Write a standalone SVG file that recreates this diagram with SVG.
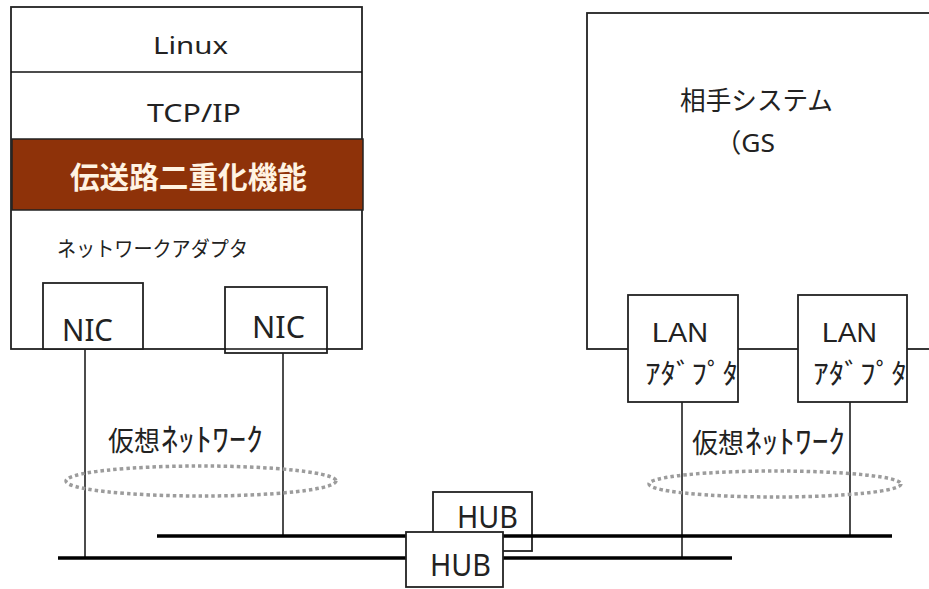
<svg xmlns="http://www.w3.org/2000/svg" width="929" height="589" viewBox="0 0 929 589">
<style>
.box{fill:#fff;stroke:#222;stroke-width:1.8}
.wire{stroke:#111;stroke-width:1.5;fill:none}
.bus{stroke:#000;stroke-width:3.5;fill:none}
.vnet{fill:none;stroke:#9c9c9c;stroke-width:3.5;stroke-dasharray:3.5 3}
.t{font-family:"Noto Sans CJK JP","Noto Sans",sans-serif;fill:#222}
.l{font-family:"Noto Sans","Noto Sans CJK JP",sans-serif;fill:#222}
.h{font-family:"Liberation Sans","Noto Sans CJK JP",sans-serif;fill:#222}
</style>
<rect width="929" height="589" fill="#fff"/>
<g id="linux-host">
  <rect class="box" x="11" y="7" width="351" height="342"/>
  <line class="wire" x1="11" y1="72" x2="362" y2="72"/>
  <text class="l" x="153" y="54" font-size="23" textLength="75" lengthAdjust="spacingAndGlyphs">Linux</text>
  <text class="l" x="147" y="122" font-size="25" textLength="94" lengthAdjust="spacingAndGlyphs">TCP/IP</text>
</g>
<g id="redundancy">
  <rect x="12" y="139" width="351" height="71" fill="#8e3209" stroke="#222" stroke-width="1.5"/>
  <text class="t" x="70" y="188" font-size="30" font-weight="bold" style="fill:#fff3e2" textLength="237" lengthAdjust="spacingAndGlyphs">伝送路二重化機能</text>
</g>
<g id="adapter-label">
  <text class="t" x="57" y="256" font-size="21" textLength="191" lengthAdjust="spacingAndGlyphs">ネットワークアダプタ</text>
</g>
<g id="remote-system">
  <rect class="box" x="587" y="13" width="360" height="336"/>
  <text class="t" x="680" y="110" font-size="26" textLength="153" lengthAdjust="spacingAndGlyphs">相手システム</text>
  <text class="l" x="715" y="152" font-size="26" textLength="60" lengthAdjust="spacingAndGlyphs">（GS</text>
</g>
<g id="connectors">
  <line class="wire" x1="85" y1="349" x2="85" y2="558"/>
  <line class="wire" x1="283" y1="353" x2="283" y2="536"/>
  <line class="wire" x1="682" y1="402" x2="682" y2="558"/>
  <line class="wire" x1="850" y1="402" x2="850" y2="536"/>
</g>
<g id="nic1">
  <rect class="box" x="43" y="283" width="100" height="66"/>
  <text class="l" x="62" y="341" font-size="30" textLength="51" lengthAdjust="spacingAndGlyphs">NIC</text>
</g>
<g id="nic2">
  <rect class="box" x="225" y="287" width="102" height="66"/>
  <line class="wire" x1="225" y1="349" x2="327" y2="349"/>
  <text class="l" x="252" y="338" font-size="30" textLength="53" lengthAdjust="spacingAndGlyphs">NIC</text>
</g>
<g id="lan1">
  <rect class="box" x="628" y="295" width="110" height="107"/>
  <text class="h" x="652" y="342" font-size="28" textLength="56" lengthAdjust="spacingAndGlyphs">LAN</text>
  <text class="t" x="645" y="384" font-size="28" textLength="93" lengthAdjust="spacingAndGlyphs">ｱﾀﾞﾌﾟﾀ</text>
</g>
<g id="lan2">
  <rect class="box" x="798" y="295" width="109" height="107"/>
  <text class="h" x="822" y="342" font-size="28" textLength="55" lengthAdjust="spacingAndGlyphs">LAN</text>
  <text class="t" x="813" y="384" font-size="28" textLength="94" lengthAdjust="spacingAndGlyphs">ｱﾀﾞﾌﾟﾀ</text>
</g>
<g id="vnet-left">
  <text class="t" x="108" y="451" font-size="27" textLength="52" lengthAdjust="spacingAndGlyphs">仮想</text>
  <text class="t" x="161" y="451" font-size="32" textLength="102" lengthAdjust="spacingAndGlyphs">ﾈｯﾄﾜｰｸ</text>
  <ellipse class="vnet" cx="201" cy="481" rx="135" ry="15"/>
</g>
<g id="vnet-right">
  <text class="t" x="692" y="453" font-size="27" textLength="52" lengthAdjust="spacingAndGlyphs">仮想</text>
  <text class="t" x="745" y="453" font-size="32" textLength="100" lengthAdjust="spacingAndGlyphs">ﾈｯﾄﾜｰｸ</text>
  <ellipse class="vnet" cx="775" cy="484" rx="126" ry="13"/>
</g>
<g id="hub-back">
  <rect class="box" x="433" y="492" width="99" height="59"/>
  <text class="l" x="457" y="528" font-size="30" textLength="61" lengthAdjust="spacingAndGlyphs">HUB</text>
</g>
<g id="buses">
  <line class="bus" x1="157" y1="536" x2="892" y2="536"/>
  <line class="bus" x1="58" y1="558" x2="732" y2="558"/>
</g>
<g id="hub-front">
  <rect class="box" x="406" y="532" width="97" height="55"/>
  <text class="l" x="430" y="576" font-size="30" textLength="61" lengthAdjust="spacingAndGlyphs">HUB</text>
</g>
</svg>
